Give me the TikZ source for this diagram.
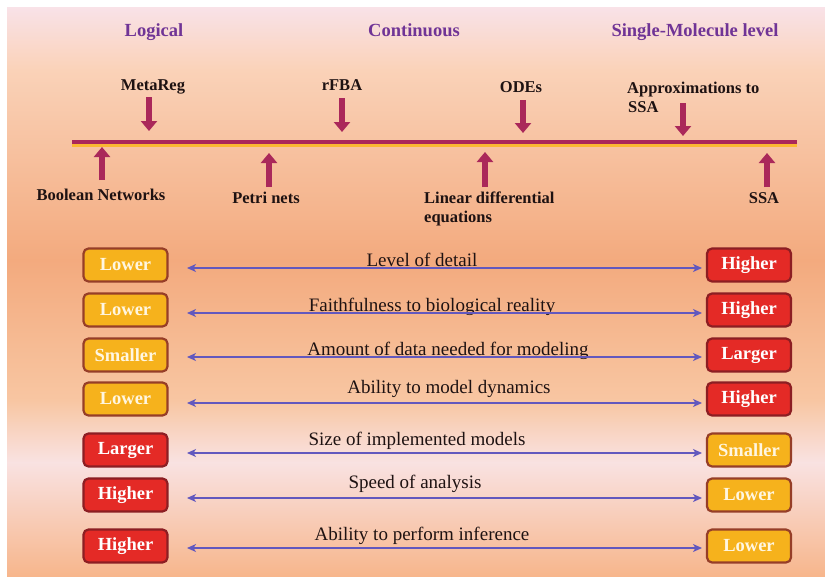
\documentclass[tikz,border=0pt]{standalone}
\usepackage{fontspec}
\setmainfont{Liberation Serif}
\usetikzlibrary{arrows.meta}
\definecolor{bgA}{RGB}{249,226,232}
\definecolor{bgB}{RGB}{250,210,184}
\definecolor{bgC}{RGB}{243,170,126}
\definecolor{bgD}{RGB}{248,198,162}
\definecolor{bgE}{RGB}{249,226,226}
\definecolor{bgF}{RGB}{247,182,140}
\definecolor{headc}{RGB}{112,52,150}
\definecolor{arrc}{RGB}{170,40,90}
\definecolor{glowc}{RGB}{250,185,50}
\definecolor{dblc}{RGB}{98,88,190}
\definecolor{yfill}{RGB}{246,178,28}
\definecolor{ydraw}{RGB}{150,62,40}
\definecolor{rfill}{RGB}{228,42,38}
\definecolor{rdraw}{RGB}{140,30,35}
\definecolor{txtc}{RGB}{30,18,18}
\tikzset{
  head/.style={text=headc, font=\fontsize{18.5}{20}\selectfont\bfseries, inner sep=0pt, anchor=base},
  lab/.style={text=txtc, font=\fontsize{16.5}{20}\selectfont\bfseries, inner sep=0pt, align=left},
  rowlab/.style={text=txtc, font=\fontsize{19}{21}\selectfont, inner sep=0pt, anchor=base},
  bigarrow/.style={draw=arrc, line width=6pt, -{Triangle[width=16pt,length=10pt]}},
  dbl/.style={draw=dblc, line width=1.4pt, {Stealth[length=9pt,width=8pt,inset=2.5pt]}-{Stealth[length=9pt,width=8pt,inset=2.5pt]}},
  boxbase/.style={rounded corners=5pt, minimum width=84pt, minimum height=33pt, line width=2.2pt, text=white, font=\fontsize{18.5}{20}\selectfont\bfseries, inner sep=0pt},
  ybox/.style={boxbase, fill=yfill, draw=ydraw, text={rgb,255:red,255;green,246;blue,225}},
  rbox/.style={boxbase, fill=rfill, draw=rdraw},
}
\begin{document}
\begin{tikzpicture}[x=1pt,y=-1pt]
\useasboundingbox (0,0) rectangle (825,576);
% background
\shade[top color=bgA, bottom color=bgB] (7,7) rectangle (825,70.5);
\shade[top color=bgB, bottom color=bgC] (7,70) rectangle (825,260.5);
\shade[top color=bgC, bottom color=bgD] (7,260) rectangle (825,400.5);
\shade[top color=bgD, bottom color=bgE] (7,400) rectangle (825,462.5);
\shade[top color=bgE, bottom color=bgF] (7,462) rectangle (825,576);
% headings
\node[head] (hlog) at (154,36) {Logical};
\node[head] (hcon) at (414,36) {Continuous};
\node[head] (hsm) at (695,36) {Single-Molecule level};
% main line
\coordinate (L0) at (72,142);
\coordinate (L1) at (797,142);
\coordinate (G0) at (72,145.5);
\coordinate (G1) at (797,145.5);
\draw[draw=glowc, line width=2.2pt] (G0) -- (G1);
\draw[draw=arrc, line width=4pt] (L0) -- (L1);
% labels above the line
\node[lab, anchor=base] (metareg) at (153,90) {MetaReg};
\node[lab, anchor=base] (rfba) at (342,90) {rFBA};
\node[lab, anchor=base] (odes) at (521,92) {ODEs};
\node[lab, anchor=base west] (approx) at (627,93) {Approximations to};
\node[lab, anchor=base west] (approx2) at (628,112) {SSA};
\coordinate (a1s) at (149,97);  \coordinate (a1e) at (149,131);
\coordinate (a2s) at (342,98);  \coordinate (a2e) at (342,132);
\coordinate (a3s) at (523,100); \coordinate (a3e) at (523,133);
\coordinate (a4s) at (683,103); \coordinate (a4e) at (683,136);
\draw[bigarrow] (a1s) -- (a1e);
\draw[bigarrow] (a2s) -- (a2e);
\draw[bigarrow] (a3s) -- (a3e);
\draw[bigarrow] (a4s) -- (a4e);
% labels below the line
\node[lab, anchor=base] (bool) at (101,200) {Boolean Networks};
\node[lab, anchor=base] (petri) at (266,203) {Petri nets};
\node[lab, anchor=base west] (lin) at (424,203) {Linear differential};
\node[lab, anchor=base west] (lin2) at (424,222) {equations};
\node[lab, anchor=base] (ssa) at (764,203) {SSA};
\coordinate (b1s) at (102,180); \coordinate (b1e) at (102,147);
\coordinate (b2s) at (269,187); \coordinate (b2e) at (269,153);
\coordinate (b3s) at (485,187); \coordinate (b3e) at (485,152);
\coordinate (b4s) at (767,187); \coordinate (b4e) at (767,153);
\draw[bigarrow] (b1s) -- (b1e);
\draw[bigarrow] (b2s) -- (b2e);
\draw[bigarrow] (b3s) -- (b3e);
\draw[bigarrow] (b4s) -- (b4e);
% comparison rows
\foreach \i/\yb/\ya/\yt/\cx/\txt/\ls/\lt/\rs/\rt in {
  1/265/268/266/422/Level of detail/ybox/Lower/rbox/Higher,
  2/310/313/311/432/Faithfulness to biological reality/ybox/Lower/rbox/Higher,
  3/355/357/355/448/Amount of data needed for modeling/ybox/Smaller/rbox/Larger,
  4/399/403/393/449/Ability to model dynamics/ybox/Lower/rbox/Higher,
  5/450/453/445/417/Size of implemented models/rbox/Larger/ybox/Smaller,
  6/495/498/488/415/Speed of analysis/rbox/Higher/ybox/Lower,
  7/546/548/540/422/Ability to perform inference/rbox/Higher/ybox/Lower}{
  \node[\ls] (lb\i) at (125.5,\yb) {\lt};
  \node[\rs] (rb\i) at (749,\yb) {\rt};
  \node[rowlab] (t\i) at (\cx,\yt) {\txt};
  \coordinate (al\i) at (187,\ya);
  \coordinate (ar\i) at (702,\ya);
  \draw[dbl] (al\i) -- (ar\i);
}
\end{tikzpicture}
\end{document}
